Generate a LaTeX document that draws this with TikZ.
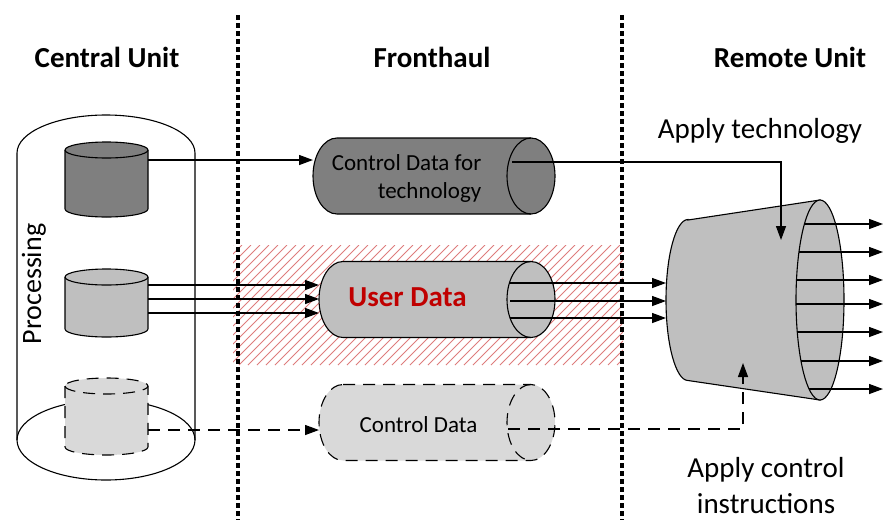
\documentclass[tikz,border=0pt]{standalone}
\usepackage{fontspec}
\setmainfont{Carlito}
\usetikzlibrary{arrows.meta}

\definecolor{cudark}{HTML}{7F7F7F}
\definecolor{cumid}{HTML}{BFBFBF}
\definecolor{culight}{HTML}{D9D9D9}
\definecolor{userred}{HTML}{C00000}
\definecolor{hatchred}{HTML}{DE7C7C}

% horizontal pipe: style, name, left end x, right end x, centre y
\newcommand{\fhpipe}[5]{%
  \draw[#1] (#3,#5+38) -- (#4,#5+38) arc[start angle=90, end angle=-90, x radius=24, y radius=38]
    -- (#3,#5-38) arc[start angle=270, end angle=90, x radius=24, y radius=38] -- cycle;
  \draw[#1, fill=none] (#4,#5+38) arc[start angle=90, end angle=270, x radius=24, y radius=38];
  \node[inner sep=0pt, outer sep=0pt, minimum width={#4-#3+48}, minimum height=76] (#2) at ({(#3+#4)/2},#5) {};
}
% upright can: style, name, centre x, top ellipse y, bottom ellipse y
\newcommand{\cucan}[5]{%
  \draw[#1] (#3-41.5,#4) -- (#3-41.5,#5) arc[start angle=180, end angle=360, x radius=41.5, y radius=8]
    -- (#3+41.5,#4) arc[start angle=0, end angle=180, x radius=41.5, y radius=8] -- cycle;
  \draw[#1, fill=none] (#3-41.5,#4) arc[start angle=180, end angle=360, x radius=41.5, y radius=8];
  \node[inner sep=0pt, outer sep=0pt, minimum width=83, minimum height={#4-#5+16}] (#2) at (#3,{(#4+#5)/2}) {};
}

\begin{document}
\begin{tikzpicture}[x=1pt, y=1pt, line width=1.3pt,
  >={Triangle[length=14pt, width=10pt]},
  head/.style={font=\fontsize{29}{35}\selectfont\bfseries, anchor=base, inner sep=0pt},
  note/.style={font=\fontsize{29}{36}\selectfont, inner sep=0pt},
  small/.style={font=\fontsize{23}{28}\selectfont, inner sep=0pt},
  shell/.style={line width=1.1pt},
  dashline/.style={dash pattern=on 12pt off 8pt},
  divider/.style={line width=3.5pt, dash pattern=on 5pt off 3pt},
  hatch/.style={draw=hatchred, line width=0.9pt}]

\useasboundingbox (0,0) rectangle (888,-520);

% hatched band behind the user data
\begin{scope}
  \clip (233,-245) rectangle (623,-365);
  \foreach \hx in {113,122,...,632}
    \draw[hatch] (\hx,-365) -- ++(120,120);
\end{scope}

% column separators
\draw[divider] (238,-15) -- (238,-520);
\draw[divider] (622,-15) -- (622,-520);

% headings
\node[head] (cuhead) at (107,-67) {Central Unit};
\node[head] (fhhead) at (432,-67) {Fronthaul};
\node[head] (ruhead) at (790,-67) {Remote Unit};

% Central unit container
\draw[shell] (106,-440) ellipse [x radius=89, y radius=40];
\draw[shell] (17,-440) -- (17,-153) arc[start angle=180, end angle=0, x radius=89, y radius=38] -- (195,-440);
\node[font=\fontsize{28}{34}\selectfont, rotate=90, anchor=base, inner sep=0pt] (proc) at (41,-284) {Processing};

\cucan{shell, fill=cudark}{cu1}{106.5}{-150}{-209}
\cucan{shell, fill=cumid}{cu2}{106.5}{-277}{-329}
\cucan{shell, fill=culight, dashline}{cu3}{106.5}{-386}{-447}

% Fronthaul pipes
\fhpipe{shell, fill=cudark}{fh1}{337}{531}{-176}
\node[small, align=right, anchor=east] (fh1txt) at (482,-178) {Control Data for\\technology};

\fhpipe{shell, fill=cumid}{fh2}{343}{531}{-299.5}
\node[font=\fontsize{29}{35}\selectfont\bfseries, text=userred, anchor=base, inner sep=0pt] (fh2txt) at (407.5,-306) {User Data};

\fhpipe{shell, fill=culight, dashline}{fh3}{343}{531}{-422.5}
\node[small, anchor=base] (fh3txt) at (418.5,-432) {Control Data};

% Remote unit
\filldraw[shell, fill=cumid] (688,-220) -- (820,-200) -- (820,-400) -- (688,-380.5)
  arc[start angle=270, end angle=90, x radius=22, y radius=80.5] -- cycle;
\filldraw[shell, fill=cumid] (820,-300) ellipse [x radius=24, y radius=100];

\coordinate (tech) at (781,-240);
\coordinate (ctrl) at (743,-363);
\coordinate (fh1out) at (512,-162);
\coordinate (fh3out) at (508,-429);

\node[note, anchor=base] (applytech) at (760,-138) {Apply technology};
\node[note, align=center] (applyctrl) at (766,-486) {Apply control\\instructions};

% connectors
\draw[->] (cu1.east |- 0,-160) -- (fh1.west |- 0,-160);
\draw[->] (fh1out) -| (tech);

\foreach \uy in {285,299,313}
  \draw[->] (cu2.east |- 0,-\uy) -- (fh2.west |- 0,-\uy);
\foreach \uy in {283,301,318}
  \draw[->] (510,-\uy) -- (666,-\uy);

\draw[->, dashline] (cu3.east |- 0,-430) -- (fh3.west |- 0,-430);
\draw[->, dashline] (fh3out) -| (ctrl);

\foreach \oy in {224,252,280,304,332,361,389}{
  \pgfmathsetmacro\ox{820-24*sqrt(1-((\oy-300)/100)^2)}
  \draw[->] (\ox,-\oy) -- (883,-\oy);
}

\end{tikzpicture}
\end{document}
